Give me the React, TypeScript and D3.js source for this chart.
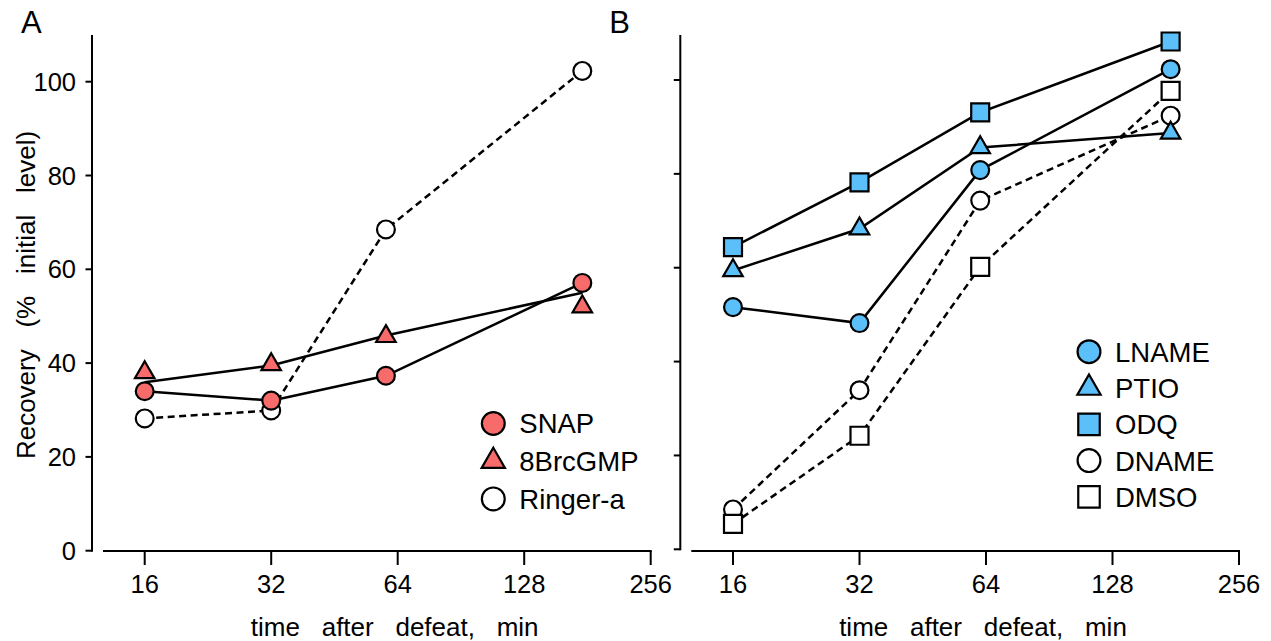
import React from 'react';
import * as d3 from 'd3';

// ---------- data ----------
const xTickValues = [16, 32, 64, 128, 256];
const yTickValues = [0, 20, 40, 60, 80, 100];

const timesA = [16, 32, 60, 176];
const snapValues = [34.0, 32.0, 37.3, 57.1];
const brcgmpLineValues = [35.9, 39.5, 45.9, 55.0];
const brcgmpMarkerValues = [38.0, 39.7, 45.7, 52.0];
const ringerValues = [28.2, 29.9, 68.5, 102.3];

const timesB = [16, 32, 62, 176];
const lnameValues = [51.6, 48.2, 80.8, 102.3];
const ptioValues = [59.4, 68.3, 85.6, 88.7];
const odqValues = [64.4, 78.2, 93.1, 108.2];
const dnameValues = [8.5, 33.9, 74.3, 92.4];
const dmsoValues = [5.4, 24.2, 60.2, 97.7];

const legendA = ['SNAP', '8BrcGMP', 'Ringer-a'];
const legendB = ['LNAME', 'PTIO', 'ODQ', 'DNAME', 'DMSO'];

const RED = '#f76b6b';
const BLUE = '#5bbff9';
const FONT = '"Liberation Sans", Arial, Helvetica, sans-serif';

type Shape = 'circle' | 'triangle' | 'square';
interface Series {
  name: string;
  times: number[];
  line: number[];
  markers: number[];
  shape: Shape;
  fill: string;
  dashed: boolean;
}

const seriesA: Series[] = [
  { name: legendA[2], times: timesA, line: ringerValues, markers: ringerValues, shape: 'circle', fill: '#fff', dashed: true },
  { name: legendA[0], times: timesA, line: snapValues, markers: snapValues, shape: 'circle', fill: RED, dashed: false },
  { name: legendA[1], times: timesA, line: brcgmpLineValues, markers: brcgmpMarkerValues, shape: 'triangle', fill: RED, dashed: false },
];
const legendItemsA: { name: string; shape: Shape; fill: string }[] = [
  { name: legendA[0], shape: 'circle', fill: RED },
  { name: legendA[1], shape: 'triangle', fill: RED },
  { name: legendA[2], shape: 'circle', fill: '#fff' },
];

const seriesB: Series[] = [
  { name: legendB[3], times: timesB, line: dnameValues, markers: dnameValues, shape: 'circle', fill: '#fff', dashed: true },
  { name: legendB[4], times: timesB, line: dmsoValues, markers: dmsoValues, shape: 'square', fill: '#fff', dashed: true },
  { name: legendB[0], times: timesB, line: lnameValues, markers: lnameValues, shape: 'circle', fill: BLUE, dashed: false },
  { name: legendB[1], times: timesB, line: ptioValues, markers: ptioValues, shape: 'triangle', fill: BLUE, dashed: false },
  { name: legendB[2], times: timesB, line: odqValues, markers: odqValues, shape: 'square', fill: BLUE, dashed: false },
];
const legendItemsB: { name: string; shape: Shape; fill: string }[] = [
  { name: legendB[0], shape: 'circle', fill: BLUE },
  { name: legendB[1], shape: 'triangle', fill: BLUE },
  { name: legendB[2], shape: 'square', fill: BLUE },
  { name: legendB[3], shape: 'circle', fill: '#fff' },
  { name: legendB[4], shape: 'square', fill: '#fff' },
];

const symType = (s: Shape) =>
  s === 'circle' ? d3.symbolCircle : s === 'triangle' ? d3.symbolTriangle : d3.symbolSquare;

const plotSize: Record<Shape, number> = { circle: 250, triangle: 165, square: 324 };
const legendSize: Record<Shape, number> = { circle: 410, triangle: 235, square: 462 };

const symbolPath = (s: Shape, size: number) => d3.symbol().type(symType(s)).size(size)() as string;

interface PanelProps {
  x0: number;
  yBottom: number;
  yTop: number;
  letter: string;
  showYLabels: boolean;
  series: Series[];
  legend: { name: string; shape: Shape; fill: string }[];
  legendX: number;
  legendY0: number;
  legendStep: number;
}

const Panel: React.FC<PanelProps> = ({ x0, yBottom, yTop, letter, showYLabels, series, legend, legendX, legendY0, legendStep }) => {
  const x = d3.scaleLog().base(2).domain([16, 256]).range([x0 + 52.7, x0 + 558.7]);
  const y = d3.scaleLinear().domain([0, 100]).range([yBottom, yTop]);
  const axisY = 551;
  const line = d3
    .line<[number, number]>()
    .x((d) => x(d[0]))
    .y((d) => y(d[1]));

  return (
    <g>
      <text x={x0 - 71} y={33.3} fontSize={31} fontFamily={FONT}>
        {letter}
      </text>
      {/* y axis */}
      <line x1={x0} x2={x0} y1={35} y2={y(0) + 1} stroke="#000" strokeWidth={2} />
      {yTickValues.map((v) => (
        <g key={v}>
          <line x1={x0 - 6.5} x2={x0} y1={y(v)} y2={y(v)} stroke="#000" strokeWidth={2} />
          {showYLabels && (
            <text x={x0 - 16} y={y(v)} dy="0.36em" textAnchor="end" fontSize={25.5} fontFamily={FONT}>
              {v}
            </text>
          )}
        </g>
      ))}
      {/* x axis */}
      <line x1={x0 + 11} x2={x(256) + 1} y1={axisY} y2={axisY} stroke="#000" strokeWidth={2} />
      {xTickValues.map((t) => (
        <g key={t}>
          <line x1={x(t)} x2={x(t)} y1={axisY} y2={axisY + 14} stroke="#000" strokeWidth={2} />
          <text x={x(t)} y={593} textAnchor="middle" fontSize={25.5} fontFamily={FONT}>
            {t}
          </text>
        </g>
      ))}
      <text x={x(64) - 3} y={636} textAnchor="middle" fontSize={26} fontFamily={FONT} style={{ wordSpacing: '14.5px' }}>
        time after defeat, min
      </text>
      {/* lines */}
      {series.map((s) => (
        <path
          key={s.name + '-line'}
          d={line(s.times.map((t, i) => [t, s.line[i]] as [number, number])) as string}
          fill="none"
          stroke="#000"
          strokeWidth={2.5}
          strokeDasharray={s.dashed ? '7,4.5' : undefined}
        />
      ))}
      {/* markers */}
      {series.map((s) => (
        <g key={s.name + '-marks'}>
          {s.times.map((t, i) => (
            <path
              key={i}
              d={symbolPath(s.shape, plotSize[s.shape])}
              transform={`translate(${x(t)},${y(s.markers[i])})`}
              fill={s.fill}
              stroke="#000"
              strokeWidth={2.2}
            />
          ))}
        </g>
      ))}
      {/* legend */}
      {legend.map((l, i) => (
        <g key={l.name} transform={`translate(${legendX},${legendY0 + i * legendStep})`}>
          <path d={symbolPath(l.shape, legendSize[l.shape])} fill={l.fill} stroke="#000" strokeWidth={2.2} />
          <text x={26} y={0} dy="0.36em" fontSize={27.5} fontFamily={FONT}>
            {l.name}
          </text>
        </g>
      ))}
    </g>
  );
};

export default function App() {
  return (
    <svg
      width={1271}
      height={641}
      style={{ position: 'absolute', left: 0, top: 0, background: '#fff' }}
    >
      <rect width={1271} height={641} fill="#fff" />
      <text
        transform="translate(35,295) rotate(-90)"
        textAnchor="middle"
        fontSize={26}
        fontFamily={FONT}
        style={{ wordSpacing: '14.5px' }}
      >
        Recovery (% initial level)
      </text>
      <Panel
        x0={92}
        yBottom={550.7}
        yTop={81.7}
        letter="A"
        showYLabels={true}
        series={seriesA}
        legend={legendItemsA}
        legendX={493.3}
        legendY0={423.5}
        legendStep={37.7}
      />
      <Panel
        x0={680.3}
        yBottom={549.3}
        yTop={80}
        letter="B"
        showYLabels={false}
        series={seriesB}
        legend={legendItemsB}
        legendX={1089}
        legendY0={351.7}
        legendStep={36.3}
      />
    </svg>
  );
}
